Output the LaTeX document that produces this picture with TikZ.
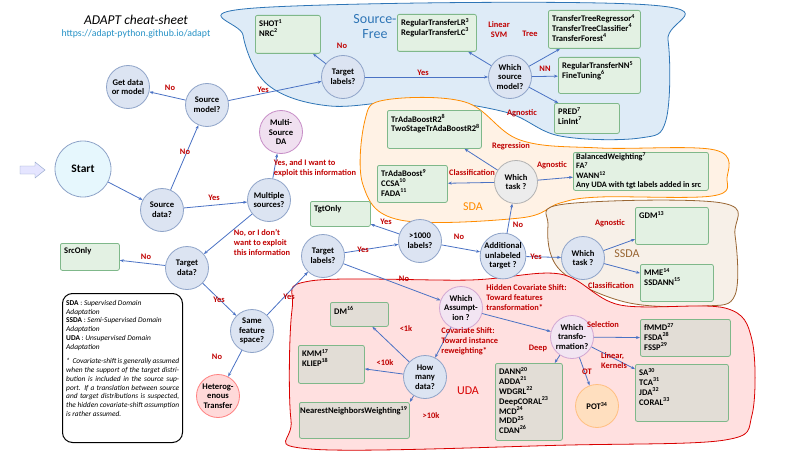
\documentclass[tikz,border=0pt]{standalone}
\usepackage{fontspec}
\setmainfont{Carlito}
\usetikzlibrary{arrows.meta,shapes.geometric}
\definecolor{arr}{HTML}{4A72C4}
\definecolor{lab}{HTML}{C00000}
\definecolor{circb}{HTML}{8EA3C8}
\definecolor{circf}{HTML}{DCE4F2}
\definecolor{boxg}{HTML}{E3F1E3}
\definecolor{boxb}{HTML}{7FB88A}
\definecolor{boxu}{HTML}{E2DDD6}
\definecolor{sfree}{HTML}{DEEBF7}
\definecolor{sfreeb}{HTML}{2E75B6}
\begin{document}
\begin{tikzpicture}[x=1pt,y=-1pt,
 font=\fontsize{8.6}{9.6}\selectfont\bfseries,
 q/.style={circle,draw=circb,line width=0.8pt,fill=circf,inner sep=0pt,minimum size=43pt,align=center},
 box/.style={draw=boxb,line width=0.8pt,fill=boxg,rounded corners=2pt,anchor=north west,inner sep=0pt},
 ubox/.style={box,fill=boxu},
 btxt/.style={anchor=north west,align=left,inner sep=0pt,font=\fontsize{8.6}{9.8}\selectfont\bfseries},
 ar/.style={-{Stealth[length=4pt]},draw=arr,line width=0.8pt},
 lb/.style={text=lab,align=left,inner sep=0pt,font=\fontsize{8.4}{10}\selectfont\bfseries},
 blob/.style={line width=0.8pt}]
\useasboundingbox (0,0) rectangle (800,452);
% regions
\draw[blob,draw=sfreeb,fill=sfree] plot[smooth cycle,tension=0.6] coordinates{(255,8) (650,5) (668,40) (666,120) (640,138) (560,136) (505,112) (420,100) (330,106) (268,85) (243,35)};
\node[text=sfreeb,font=\fontsize{14}{15}\selectfont,align=center] at (375,27) {Source-\\Free};
\draw[blob,draw=orange!90!yellow,fill=orange!10] plot[smooth cycle,tension=0.6] coordinates{(385,100) (465,102) (520,140) (600,148) (715,150) (727,178) (712,196) (600,197) (560,203) (520,218) (400,220) (363,185) (365,120)};
\node[text=orange!90!yellow,font=\fontsize{12}{13}\selectfont] at (473,207) {SDA};
\draw[blob,draw=brown!80!black,fill=brown!12] plot[smooth cycle,tension=0.6] coordinates{(565,204) (722,203) (735,235) (735,295) (705,306) (625,302) (560,270) (548,225)};
\node[text=brown!80!black,font=\fontsize{12}{13}\selectfont] at (627,254) {SSDA};
\draw[blob,draw=red!85!black,fill=red!12] plot[smooth cycle,tension=0.55] coordinates{(310,281) (470,280) (560,274) (620,305) (725,308) (752,340) (752,415) (725,440) (570,445) (310,449) (291,420) (292,310)};
\node[text=red!85!black,font=\fontsize{12}{13}\selectfont] at (468,391) {UDA};
% title
\node[font=\fontsize{13.5}{14}\selectfont\itshape\mdseries] at (136,20) {ADAPT cheat-sheet};
\node[text=sfreeb!80!cyan,font=\fontsize{9.8}{10}\selectfont\mdseries] at (136,34) {https://adapt-python.github.io/adapt};
% start arrow
\draw[fill=blue!10,draw=circb] (20,166) -- (35,166) -- (35,162) -- (45,170) -- (35,178) -- (35,174) -- (20,174) -- cycle;
% circles
\node[q,minimum size=56pt,fill=cyan!10,font=\fontsize{11.5}{12}\selectfont\bfseries] (start) at (83,169) {Start};
\node[q] (sd) at (162,210) {Source\\data?};
\node[q] (sm) at (207,105) {Source\\model?};
\node[q] (gd) at (128,87) {Get data\\or model};
\node[q] (tl1) at (343,77) {Target\\labels?};
\node[q] (wsm) at (510,77) {Which\\source\\model?};
\node[q,fill=violet!12,draw=violet!45] (msda) at (281,132) {Multi-\\Source\\DA};
\node[q] (ms) at (269,200) {Multiple\\sources?};
\node[q] (td) at (187,268) {Target\\data?};
\node[q] (sfs) at (252,331) {Same\\feature\\space?};
\node[q,fill=red!15,draw=red!50] (het) at (218,396) {Heterog-\\enous\\Transfer};
\node[q] (tl2) at (323,256) {Target\\labels?};
\node[q] (k) at (420,241) {>1000\\labels?};
\node[q] (aut) at (503,256) {Additional\\unlabeled\\target ?};
\node[q,fill=gray!15,draw=gray!60] (wt1) at (516,182) {Which\\task ?};
\node[q] (wt2) at (583,258) {Which\\task ?};
\node[q,fill=violet!10,draw=violet!35] (wa) at (461,308) {Which\\Assumpt-\\ion ?};
\node[q] (hm) at (425,377) {How\\many\\data?};
\node[q,fill=violet!10,draw=violet!35] (wtr) at (572,337) {Which\\transfo-\\rmation?};
\node[q,fill=orange!25,draw=orange!50] (pot) at (597,406) {POT\textsuperscript{34}};
% boxes
\newcommand{\bx}[6]{\node[#1,minimum width=#4,minimum height=#5] (#2) at (#3) {};\node[btxt] at ([shift={(4,4)}]#2.north west) {#6};}
\bx{box}{shot}{255,15}{65pt}{38pt}{SHOT\textsuperscript{1}\\NRC\textsuperscript{2}}
\bx{box}{rlr}{397,14}{79pt}{37pt}{RegularTransferLR\textsuperscript{3}\\RegularTransferLC\textsuperscript{3}}
\bx{box}{tree}{548,10}{92pt}{38pt}{TransferTreeRegressor\textsuperscript{4}\\TransferTreeClassifier\textsuperscript{4}\\TransferForest\textsuperscript{4}}
\bx{box}{rnn}{558,57}{82pt}{36pt}{RegularTransferNN\textsuperscript{5}\\FineTuning\textsuperscript{6}}
\bx{box}{pred}{554,103}{65pt}{30pt}{PRED\textsuperscript{7}\\LinInt\textsuperscript{7}}
\bx{box}{tab}{387,110}{94pt}{38pt}{TrAdaBoostR2\textsuperscript{8}\\TwoStageTrAdaBoostR2\textsuperscript{8}}
\bx{box}{ta}{377,165}{70pt}{37pt}{TrAdaBoost\textsuperscript{9}\\CCSA\textsuperscript{10}\\FADA\textsuperscript{11}}
\node[box,minimum width=135pt,minimum height=38pt] (bw) at (573,152) {};
\node[btxt,font=\fontsize{8.3}{9.2}\selectfont\bfseries] at (576,153) {BalancedWeighting\textsuperscript{7}\\FA\textsuperscript{7}\\WANN\textsuperscript{12}\\Any UDA with tgt labels added in src};
\bx{box}{tgt}{310,201}{60pt}{25pt}{TgtOnly}
\bx{box}{src}{60,243}{59pt}{27pt}{SrcOnly}
\bx{box}{gdm}{635,207}{73pt}{37pt}{GDM\textsuperscript{13}}
\bx{box}{mme}{640,264}{73pt}{37pt}{MME\textsuperscript{14}\\SSDANN\textsuperscript{15}}
\bx{ubox}{dm}{330,302}{58pt}{24pt}{DM\textsuperscript{16}}
\bx{ubox}{kmm}{298,345}{66pt}{38pt}{KMM\textsuperscript{17}\\KLIEP\textsuperscript{18}}
\node[ubox,minimum width=110pt,minimum height=36pt] (nnw) at (299,402) {};
\node[btxt] at (300,406) {NearestNeighborsWeighting\textsuperscript{19}};
\bx{ubox}{fmmd}{640,319}{90pt}{37pt}{fMMD\textsuperscript{27}\\FSDA\textsuperscript{28}\\FSSP\textsuperscript{29}}
\bx{ubox}{sa}{635,364}{93pt}{57pt}{SA\textsuperscript{30}\\TCA\textsuperscript{31}\\JDA\textsuperscript{32}\\CORAL\textsuperscript{33}}
\bx{ubox}{dann}{495,363}{67pt}{77pt}{DANN\textsuperscript{20}\\ADDA\textsuperscript{21}\\WDGRL\textsuperscript{22}\\DeepCORAL\textsuperscript{23}\\MCD\textsuperscript{24}\\MDD\textsuperscript{25}\\CDAN\textsuperscript{26}}
% legend
\node[draw,line width=1pt,rounded corners=10pt,anchor=north west,minimum width=120pt,minimum height=149pt] (leg) at (62,293) {};
\node[anchor=north west,text width=113pt,inner sep=0pt,font=\fontsize{7.4}{8.75}\selectfont\mdseries,align=justify] at (66,300) {\hyphenpenalty=10000\exhyphenpenalty=10000 \textbf{SDA} : \textit{Supervised Domain}\\\textit{Adaptation}\\ \textbf{SSDA} : \textit{Semi-Supervised Domain}\\\textit{Adaptation}\\ \textbf{UDA} : \textit{Unsupervised Domain}\\\textit{Adaptation}\\[6pt] \textit{*\ \ Covariate-shift is generally assumed when the support of the target distribution is included in the source support. If a translation between source and target distributions is suspected, the hidden covariate-shift assumption is rather assumed.}};
% arrows
\draw[ar] (start) -- (sd);
\draw[ar] (sd) -- (sm) node[lb] at (185,152) {No};
\draw[ar] (sm) -- (gd) node[lb] at (170,88) {No};
\draw[ar] (sm) -- (tl1) node[lb] at (263,90) {Yes};
\draw[ar] (tl1) -- (shot) node[lb] at (342,46) {No};
\draw[ar] (tl1) -- (wsm) node[lb] at (423,73) {Yes};
\draw[ar] (wsm) -- (rlr) node[lb,align=center] at (499,30) {Linear\\SVM};
\draw[ar] (wsm) -- (tree) node[lb] at (530,34) {Tree};
\draw[ar] (wsm) -- (rnn) node[lb] at (545,69) {NN};
\draw[ar] (wsm) -- (pred) node[lb] at (522,113) {Agnostic};
\draw[ar] (sd) -- (ms) node[lb] at (214,198) {Yes};
\draw[ar] (ms) -- (msda) node[lb] at (315,168) {Yes, and I want to\\exploit this information};
\draw[ar] (ms) -- (td) node[lb] at (262,242) {No, or I don't\\want to exploit\\this information};
\draw[ar] (td) -- (src) node[lb] at (146,257) {No};
\draw[ar] (td) -- (sfs) node[lb] at (219,300) {Yes};
\draw[ar] (sfs) -- (het) node[lb] at (217,357) {No};
\draw[ar] (sfs) -- (tl2) node[lb] at (289,297) {Yes};
\draw[ar] (tl2) -- (k) node[lb] at (363,250) {Yes};
\draw[ar] (k) -- (tgt) node[lb] at (386,222) {Yes};
\draw[ar] (k) -- (aut) node[lb] at (459,237) {No};
\draw[ar] (aut) -- (wt1) node[lb] at (518,225) {No};
\draw[ar] (aut) -- (wt2) node[lb] at (536,257) {Yes};
\draw[ar] (wt1) -- (tab) node[lb] at (511,146) {Regression};
\draw[ar] (wt1) -- (ta) node[lb] at (472,173) {Classification};
\draw[ar] (wt1) -- (bw) node[lb] at (552,165) {Agnostic};
\draw[ar] (wt2) -- (gdm) node[lb] at (610,223) {Agnostic};
\draw[ar] (wt2) -- (mme) node[lb] at (611,286) {Classification};
\draw[ar] (tl2) -- (wa) node[lb] at (404,279) {No};
\draw[ar] (wa) -- (wtr) node[lb,anchor=north west] at (486,284) {Hidden Covariate Shift:\\Toward features\\transformation*};
\draw[ar] (wa) -- (hm) node[lb,anchor=north west] at (441,327) {Covariate Shift:\\Toward instance\\reweighting*};
\draw[ar] (hm) -- (dm) node[lb] at (406,329) {<1k};
\draw[ar] (hm) -- (kmm) node[lb] at (385,363) {<10k};
\draw[ar] (hm) -- (nnw.north east) node[lb] at (431,416) {>10k};
\draw[ar] (wtr) -- (fmmd) node[lb] at (603,325) {Selection};
\draw[ar] (wtr) -- (sa) node[lb] at (614,361) {Linear,\\Kernels};
\draw[ar] (wtr) -- (dann) node[lb] at (538,348) {Deep};
\draw[ar] (wtr) -- (pot) node[lb] at (587,372) {OT};
\end{tikzpicture}
\end{document}
